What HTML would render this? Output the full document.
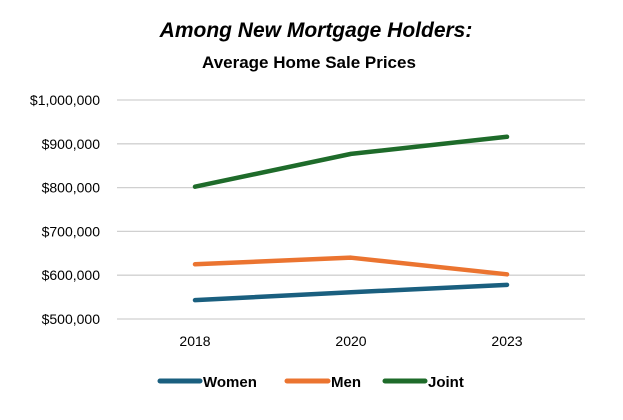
<!DOCTYPE html>
<html><head><meta charset="utf-8"><style>
body{margin:0;background:#fff;font-family:"Liberation Sans",sans-serif}
</style></head><body>
<svg width="623" height="415" xmlns="http://www.w3.org/2000/svg">
<text x="316" y="37" text-anchor="middle" font-size="21" font-weight="bold" font-style="italic">Among New Mortgage Holders:</text>
<text x="309" y="68" text-anchor="middle" font-size="17" font-weight="bold">Average Home Sale Prices</text>
<g id="grid"></g><g id="ylab"></g><g id="xlab"></g><g id="lines"></g>
<g font-size="15" font-weight="bold">
<line x1="160" y1="381" x2="200" y2="381" stroke="#1a5f7f" stroke-width="5" stroke-linecap="round"/><text x="203" y="387">Women</text>
<line x1="287" y1="381" x2="328" y2="381" stroke="#eb7430" stroke-width="5" stroke-linecap="round"/><text x="331" y="387">Men</text>
<line x1="385" y1="381" x2="425" y2="381" stroke="#1e6b2a" stroke-width="5" stroke-linecap="round"/><text x="428" y="387">Joint</text>
</g>
</svg>
<script>
const categories=["2018","2020","2023"];
const women=[543000,561000,578000];
const men=[625000,640000,602000];
const joint=[802000,877000,916000];
const yTicks=[500000,600000,700000,800000,900000,1000000];
const NS="http://www.w3.org/2000/svg";
const L=117,R=585,yMin=500000,yMax=1000000,plotTop=100,plotBot=319;
const y=v=>plotBot-(v-yMin)/(yMax-yMin)*(plotBot-plotTop);
const x=i=>L+(R-L)/categories.length*(i+0.5);
function mk(t,a,p){const e=document.createElementNS(NS,t);for(const k in a)e.setAttribute(k,a[k]);p.appendChild(e);return e;}
const g=document.getElementById('grid'),yl=document.getElementById('ylab'),xl=document.getElementById('xlab'),ln=document.getElementById('lines');
yTicks.forEach(v=>{
 const l=mk('line',{x1:L,x2:R,y1:y(v),y2:y(v),stroke:'#d0d0d0','stroke-width':1.3},g);
 
 
 const t=mk('text',{x:100,y:y(v)+5,'text-anchor':'end','font-size':14},yl);
 t.textContent='$'+v.toLocaleString('en-US');
 
 
});
categories.forEach((c,i)=>{
 const t=mk('text',{x:x(i),y:346,'text-anchor':'middle','font-size':14},xl);
 t.textContent=c;
 
 
});
[[women,'#1a5f7f','women-line'],[men,'#eb7430','men-line'],[joint,'#1e6b2a','joint-line']].forEach(([d,c,n])=>{
 const p=mk('polyline',{points:d.map((v,i)=>x(i)+','+y(v)).join(' '),fill:'none',stroke:c,'stroke-width':4.5,'stroke-linecap':'round','stroke-linejoin':'round'},ln);
 
 
});
</script>
</body></html>
